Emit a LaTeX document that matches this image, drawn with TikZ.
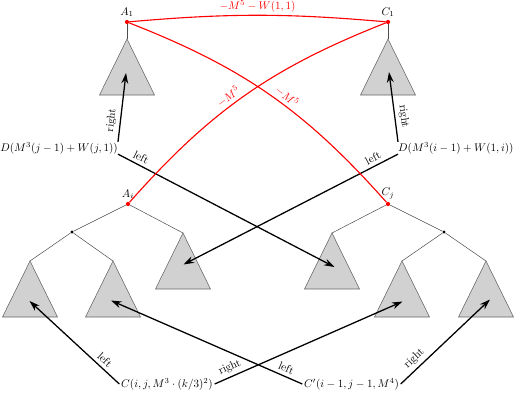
\documentclass[tikz,border=0pt]{standalone}
\usetikzlibrary{arrows.meta}
\begin{document}
\begin{tikzpicture}[x=0.9pt,y=-0.9pt,
  tri/.style={draw=black!60, fill=black!18, line width=0.5pt},
  edge/.style={draw=black!70, line width=0.45pt},
  arr/.style={-{Stealth[length=9.5pt,width=6.2pt]}, line width=1.15pt, black},
  redl/.style={red, line width=1pt},
  lab/.style={sloped, above, inner sep=3pt},
  rdot/.style={circle, fill=red, inner sep=0pt, minimum size=3.8pt},
  bdot/.style={circle, fill=black, inner sep=0pt, minimum size=3pt},
]
\useasboundingbox (0,0) rectangle (514,411);
% dots
\node[rdot, label={[inner sep=2.5pt]above:$A_1$}] (A1) at (127,22) {};
\node[rdot, label={[inner sep=2.5pt]above:$C_1$}] (C1) at (388,22) {};
\node[rdot, label={[inner sep=2.5pt]above:$A_i$}] (Ai) at (128,204) {};
\node[rdot, label={[inner sep=2.5pt]above:$C_j$}] (Cj) at (388,204) {};
\node[bdot] (Li) at (72,232) {};
\node[bdot] (Rj) at (444,232) {};
% triangle apexes
\coordinate (TA) at (127,39);
\coordinate (TC) at (388,39);
\coordinate (MA) at (183,233);
\coordinate (MC) at (332,233);
\coordinate (BA1) at (30,261);
\coordinate (BA2) at (113,261);
\coordinate (BC1) at (402,261);
\coordinate (BC2) at (486,261);
% arrow targets
\coordinate (tTA) at (126,73);
\coordinate (tTC) at (389,72);
\coordinate (tMA) at (183.5,264.5);
\coordinate (tMC) at (334.5,267);
\coordinate (tBA1) at (29.5,301);
\coordinate (tBA2) at (111,300.5);
\coordinate (tBC1) at (402.5,301.5);
\coordinate (tBC2) at (490,299.5);
% triangles
\foreach \p in {TA,TC,MA,MC,BA1,BA2,BC1,BC2}
  \filldraw[tri] (\p) -- ++(-27.5,56) -- ++(55,0) -- cycle;
% tree edges
\draw[edge] (A1) -- (TA);
\draw[edge] (C1) -- (TC);
\draw[edge] (Li) -- (Ai) -- (MA);
\draw[edge] (BA1) -- (Li) -- (BA2);
\draw[edge] (MC) -- (Cj) -- (Rj);
\draw[edge] (BC1) -- (Rj) -- (BC2);
% text nodes
\node[anchor=east, inner sep=0pt] (D1) at (118,148) {$D(M^3(j-1)+W(j,1))$};
\node[anchor=west, inner sep=0pt] (D2) at (398,148) {$D(M^3(i-1)+W(1,i))$};
\node[inner sep=1.5pt] (C) at (167,384) {$C(i,j,M^3\cdot(k/3)^2)$};
\node[inner sep=1.5pt] (Cp) at (351.5,384) {$C'(i-1,j-1,M^4)$};
% arrows
\draw[arr] (D1.north east) -- node[lab,pos=0.3]{right} (tTA);
\draw[arr] (D1.south east) -- node[lab,pos=0.09]{left} (tMC);
\draw[arr] (D2.north west) -- node[lab,pos=0.35]{right} (tTC);
\draw[arr] (D2.south west) -- node[lab,pos=0.1]{left} (tMA);
\draw[arr] (C.west) -- node[lab,pos=0.22]{left} (tBA1);
\draw[arr] (C.east) -- node[lab,pos=0.1]{right} (tBC1);
\draw[arr] (Cp.west) -- node[lab,pos=0.1]{left} (tBA2);
\draw[arr] (Cp.east) -- node[lab,pos=0.22]{right} (tBC2);
% red curves
\draw[redl] (A1) to[bend left=5] node[above, inner sep=2.2pt, text=red]{$-M^5-W(1,1)$} (C1);
\draw[redl] (A1) to[bend left=13.5] node[lab, text=red, pos=0.55]{$-M^5$} (Cj);
\draw[redl] (C1) to[bend right=13.5] node[lab, text=red, pos=0.55]{$-M^5$} (Ai);
\end{tikzpicture}
\end{document}
